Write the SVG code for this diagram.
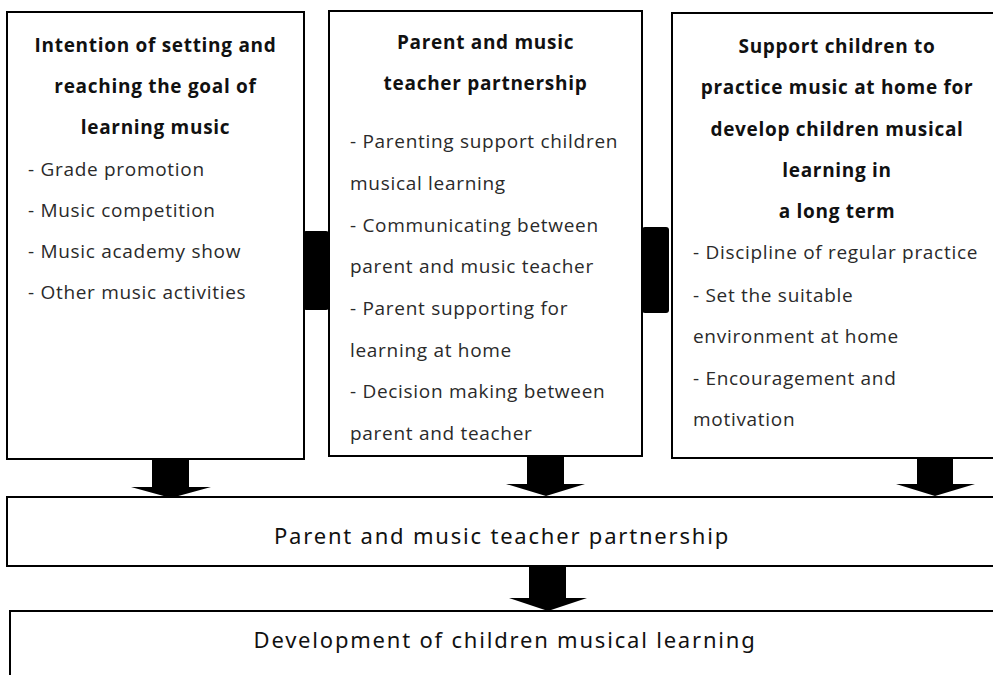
<svg xmlns="http://www.w3.org/2000/svg" width="993" height="675" viewBox="0 0 993 675">
<style>
.box{fill:#fff;stroke:#000;stroke-width:2}
.h{font-family:"Open Sans","Noto Sans",sans-serif;font-weight:700;font-size:19px;letter-spacing:0.7px;fill:#111;text-anchor:middle}
.i{font-family:"Open Sans","Noto Sans",sans-serif;font-size:19px;letter-spacing:0.7px;fill:#2a2a2a}
.m{font-family:"Noto Sans",sans-serif;font-size:22px;letter-spacing:1.8px;fill:#111;text-anchor:middle}
.arr{fill:#000}
</style>
<rect width="993" height="675" fill="#fff"/>
<g id="box1">
<rect class="box" x="7" y="12" width="297" height="447"/>
<text class="h" x="155.5" y="52">Intention of setting and</text>
<text class="h" x="155.5" y="93">reaching the goal of</text>
<text class="h" x="155.5" y="134">learning music</text>
<text class="i" x="28" y="176">- Grade promotion</text>
<text class="i" x="28" y="217">- Music competition</text>
<text class="i" x="28" y="258">- Music academy show</text>
<text class="i" x="28" y="299">- Other music activities</text>
</g>
<g id="box2">
<rect class="box" x="329" y="11" width="313" height="445"/>
<text class="h" x="485.5" y="49">Parent and music</text>
<text class="h" x="485.5" y="90">teacher partnership</text>
<text class="i" x="350" y="148">- Parenting support children</text>
<text class="i" x="350" y="190">musical learning</text>
<text class="i" x="350" y="232">- Communicating between</text>
<text class="i" x="350" y="273">parent and music teacher</text>
<text class="i" x="350" y="315">- Parent supporting for</text>
<text class="i" x="350" y="357">learning at home</text>
<text class="i" x="350" y="398">- Decision making between</text>
<text class="i" x="350" y="440">parent and teacher</text>
</g>
<g id="box3">
<rect class="box" x="672" y="13" width="330" height="445"/>
<text class="h" x="837" y="53">Support children to</text>
<text class="h" x="837" y="94">practice music at home for</text>
<text class="h" x="837" y="136">develop children musical</text>
<text class="h" x="837" y="177">learning in</text>
<text class="h" x="837" y="218">a long term</text>
<text class="i" x="693" y="259">- Discipline of regular practice</text>
<text class="i" x="693" y="302">- Set the suitable</text>
<text class="i" x="693" y="343">environment at home</text>
<text class="i" x="693" y="385">- Encouragement and</text>
<text class="i" x="693" y="426">motivation</text>
</g>
<g id="box4">
<rect class="box" x="7" y="497" width="995" height="69"/>
<text class="m" x="502" y="544">Parent and music teacher partnership</text>
</g>
<g id="box5">
<rect class="box" x="10" y="611" width="995" height="80"/>
<text class="m" x="505" y="648">Development of children musical learning</text>
</g>
<g id="connectors">
<rect class="arr" x="303" y="231" width="26" height="79" rx="3"/>
<rect class="arr" x="642" y="227" width="27" height="86" rx="3"/>
<polygon class="arr" points="152,459 189,459 189,487 211,487 171,498 131,487 152,487"/>
<polygon class="arr" points="527,456 564,456 564,484 585,484 546,496 506,484 527,484"/>
<polygon class="arr" points="917,458 953,458 953,484 975,484 935,496 896,484 917,484"/>
<polygon class="arr" points="529,566 566,566 566,598 587,598 548,611 509,598 529,598"/>
</g>
</svg>
